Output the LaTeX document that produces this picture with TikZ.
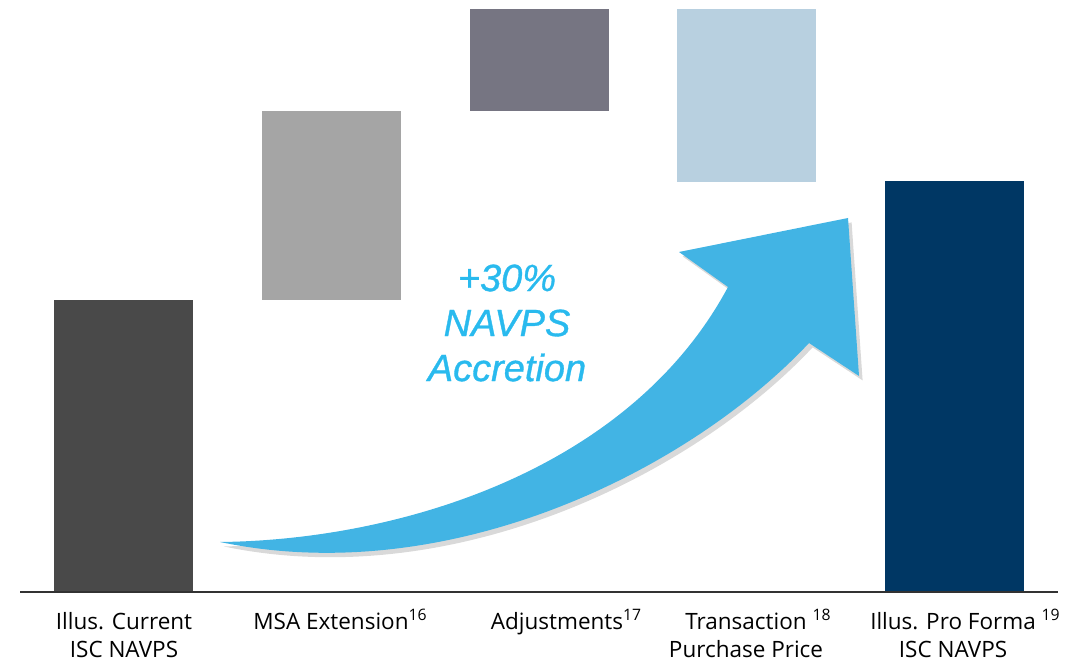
\documentclass[tikz,border=0pt]{standalone}
\usepackage{fontspec}
\setmainfont{Open Sans}
\newfontfamily\calloutfont[ItalicFeatures={FakeBold=0.9}]{Liberation Sans}
\usetikzlibrary{shadows}

\definecolor{curgray}{RGB}{73,73,73}
\definecolor{msagray}{RGB}{165,165,165}
\definecolor{adjgray}{RGB}{118,117,130}
\definecolor{txnblue}{RGB}{184,208,224}
\definecolor{pfnavy}{RGB}{0,55,100}
\definecolor{arrowblue}{RGB}{66,180,228}
\definecolor{textblue}{RGB}{41,186,238}
\definecolor{axisgray}{RGB}{50,50,50}

\tikzset{
	bar/.style={anchor=south, inner sep=0pt, minimum width=3.475cm},
	barlabel/.style={anchor=base, align=center, font=\fontsize{16}{19.9}\selectfont, inner sep=0pt},
}

\begin{document}
\begin{tikzpicture}[x=0.025cm, y=-0.025cm]
		\useasboundingbox (0,0) rectangle (1076,661);
		% bars
		\node[bar, fill=curgray, minimum height=7.3cm] (cur) at (123.5,592) {};
		\node[bar, fill=msagray, minimum height=4.725cm] (msa) at (331.5,300) {};
		\node[bar, fill=adjgray, minimum height=2.55cm] (adj) at (539.5,111) {};
		\node[bar, fill=txnblue, minimum height=4.325cm] (txn) at (746.5,182) {};
		\node[bar, fill=pfnavy, minimum height=10.275cm] (pf) at (954.5,592) {};
		\draw[axisgray, line width=1.4pt] (20,592) -- (1058,592);
		% curved arrow
		\fill[arrowblue, drop shadow={shadow xshift=0.09cm, shadow yshift=-0.11cm, opacity=0.3}]
			(220,542) .. controls (400,540) and (630,470) .. (728,287)
			-- (679,252) -- (848,218) -- (859,376) -- (809,343)
			.. controls (690,470) and (450,590) .. (220,542) -- cycle;
		\node[align=center, text=textblue, font=\calloutfont\itshape\fontsize{27}{32}\selectfont] (gain) at (507,323) {+30\%\\NAVPS\\Accretion};
		% labels (base = last line)
		\node[barlabel] (curlab) at (124,657) {Illus. Current\\ISC NAVPS};
		\node[barlabel] (msalab) at (331,629) {MSA Extension\rlap{\textsuperscript{16}}};
		\node[barlabel] (adjlab) at (557,629) {Adjustments\rlap{\textsuperscript{17}}};
		\node[barlabel] (txnlab) at (746,657) {Transaction\rlap{ \textsuperscript{18}}\\Purchase Price};
		\node[barlabel] (pflab) at (953,657) {Illus. Pro Forma\rlap{ \textsuperscript{19}}\\ISC NAVPS};
	\end{tikzpicture}
\end{document}
